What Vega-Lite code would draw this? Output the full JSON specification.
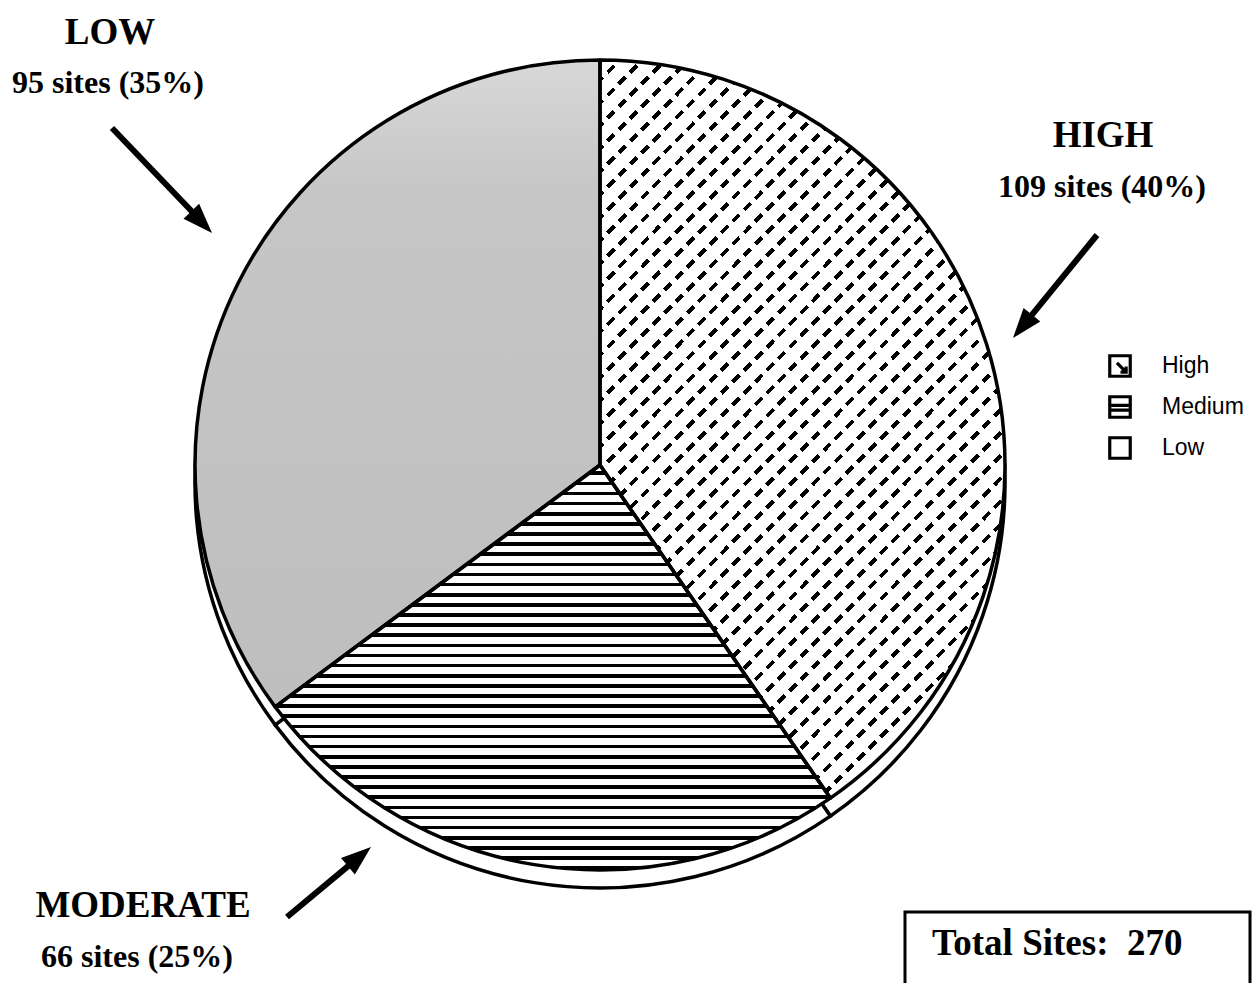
{
  "$schema": "https://vega.github.io/schema/vega-lite/v6.json",
  "width": 1255,
  "height": 983,
  "padding": 0,
  "autosize": {"type": "fit", "contains": "padding"},
  "background": "#ffffff",
  "config": {"view": {"stroke": null}},
  "datasets": {
    "sites": [
      {"level": "High", "sites": 109, "rank": 1},
      {"level": "Medium", "sites": 66, "rank": 2},
      {"level": "Low", "sites": 95, "rank": 3}
    ]
  },
  "data": {"values": [{}]},
  "layer": [
    {
      "data": {"name": "sites"},
      "mark": {"type": "arc", "outerRadius": 405, "stroke": "#000", "strokeWidth": 3.5},
      "encoding": {
        "x": {"datum": 0, "type": "quantitative", "scale": {"domain": [-600, 655], "nice": false, "zero": false}, "axis": null},
        "y": {"datum": -18, "type": "quantitative", "scale": {"domain": [-518, 465], "nice": false, "zero": false}, "axis": null},
        "theta": {"field": "sites", "type": "quantitative", "stack": true},
        "order": {"field": "rank", "type": "quantitative"},
        "fill": {
          "field": "level", "type": "nominal",
          "scale": {"domain": ["High", "Medium", "Low"], "range": ["#ffffff", "#ffffff", "#ffffff"]},
          "legend": {
            "orient": "none", "legendX": 1108, "legendY": 354, "title": null, "padding": 0,
            "symbolType": "square", "symbolSize": 420, "symbolStrokeColor": "#000", "symbolStrokeWidth": 3.2,
            "labelFont": "Liberation Sans", "labelFontSize": 23, "labelColor": "#000", "labelOffset": 30,
            "rowPadding": 7,
            "encode": {"symbols": {"update": {"shape": {"signal": "datum.value === 'High' ? 'M-1,-1H1V1H-1Z M-0.3,-0.3L0.6,0.6 M0.6,0.05V0.6H0.05' : datum.value === 'Medium' ? 'M-1,-1H1V1H-1Z M-1,-0.15H1 M-1,0.3H1' : 'M-1,-1H1V1H-1Z'"}}}}
          }
        }
      }
    },
    {
      "data": {"name": "sites"},
      "mark": {"type": "arc", "outerRadius": 405, "strokeWidth": 0},
      "encoding": {
        "x": {"datum": 0, "type": "quantitative"},
        "y": {"datum": 0, "type": "quantitative"},
        "theta": {"field": "sites", "type": "quantitative", "stack": true},
        "order": {"field": "rank", "type": "quantitative"},
        "fill": {
          "condition": [
            {"test": "datum.level === 'High'", "value": {"gradient": "linear", "x1": 0, "y1": 0, "x2": 0.657, "y2": 1.189, "stops": [
              {"offset":0,"color":"#fff"},{"offset":0.015,"color":"#fff"},{"offset":0.015,"color":"#000"},{"offset":0.02,"color":"#000"},
              {"offset":0.02,"color":"#fff"},{"offset":0.035,"color":"#fff"},{"offset":0.035,"color":"#000"},{"offset":0.04,"color":"#000"},
              {"offset":0.04,"color":"#fff"},{"offset":0.055,"color":"#fff"},{"offset":0.055,"color":"#000"},{"offset":0.06,"color":"#000"},
              {"offset":0.06,"color":"#fff"},{"offset":0.075,"color":"#fff"},{"offset":0.075,"color":"#000"},{"offset":0.08,"color":"#000"},
              {"offset":0.08,"color":"#fff"},{"offset":0.095,"color":"#fff"},{"offset":0.095,"color":"#000"},{"offset":0.1,"color":"#000"},
              {"offset":0.1,"color":"#fff"},{"offset":0.115,"color":"#fff"},{"offset":0.115,"color":"#000"},{"offset":0.12,"color":"#000"},
              {"offset":0.12,"color":"#fff"},{"offset":0.135,"color":"#fff"},{"offset":0.135,"color":"#000"},{"offset":0.14,"color":"#000"},
              {"offset":0.14,"color":"#fff"},{"offset":0.155,"color":"#fff"},{"offset":0.155,"color":"#000"},{"offset":0.16,"color":"#000"},
              {"offset":0.16,"color":"#fff"},{"offset":0.175,"color":"#fff"},{"offset":0.175,"color":"#000"},{"offset":0.18,"color":"#000"},
              {"offset":0.18,"color":"#fff"},{"offset":0.195,"color":"#fff"},{"offset":0.195,"color":"#000"},{"offset":0.2,"color":"#000"},
              {"offset":0.2,"color":"#fff"},{"offset":0.215,"color":"#fff"},{"offset":0.215,"color":"#000"},{"offset":0.22,"color":"#000"},
              {"offset":0.22,"color":"#fff"},{"offset":0.235,"color":"#fff"},{"offset":0.235,"color":"#000"},{"offset":0.24,"color":"#000"},
              {"offset":0.24,"color":"#fff"},{"offset":0.255,"color":"#fff"},{"offset":0.255,"color":"#000"},{"offset":0.26,"color":"#000"},
              {"offset":0.26,"color":"#fff"},{"offset":0.275,"color":"#fff"},{"offset":0.275,"color":"#000"},{"offset":0.28,"color":"#000"},
              {"offset":0.28,"color":"#fff"},{"offset":0.295,"color":"#fff"},{"offset":0.295,"color":"#000"},{"offset":0.3,"color":"#000"},
              {"offset":0.3,"color":"#fff"},{"offset":0.315,"color":"#fff"},{"offset":0.315,"color":"#000"},{"offset":0.32,"color":"#000"},
              {"offset":0.32,"color":"#fff"},{"offset":0.335,"color":"#fff"},{"offset":0.335,"color":"#000"},{"offset":0.34,"color":"#000"},
              {"offset":0.34,"color":"#fff"},{"offset":0.355,"color":"#fff"},{"offset":0.355,"color":"#000"},{"offset":0.36,"color":"#000"},
              {"offset":0.36,"color":"#fff"},{"offset":0.375,"color":"#fff"},{"offset":0.375,"color":"#000"},{"offset":0.38,"color":"#000"},
              {"offset":0.38,"color":"#fff"},{"offset":0.395,"color":"#fff"},{"offset":0.395,"color":"#000"},{"offset":0.4,"color":"#000"},
              {"offset":0.4,"color":"#fff"},{"offset":0.415,"color":"#fff"},{"offset":0.415,"color":"#000"},{"offset":0.42,"color":"#000"},
              {"offset":0.42,"color":"#fff"},{"offset":0.435,"color":"#fff"},{"offset":0.435,"color":"#000"},{"offset":0.44,"color":"#000"},
              {"offset":0.44,"color":"#fff"},{"offset":0.455,"color":"#fff"},{"offset":0.455,"color":"#000"},{"offset":0.46,"color":"#000"},
              {"offset":0.46,"color":"#fff"},{"offset":0.475,"color":"#fff"},{"offset":0.475,"color":"#000"},{"offset":0.48,"color":"#000"},
              {"offset":0.48,"color":"#fff"},{"offset":0.495,"color":"#fff"},{"offset":0.495,"color":"#000"},{"offset":0.5,"color":"#000"},
              {"offset":0.5,"color":"#fff"},{"offset":0.515,"color":"#fff"},{"offset":0.515,"color":"#000"},{"offset":0.52,"color":"#000"},
              {"offset":0.52,"color":"#fff"},{"offset":0.535,"color":"#fff"},{"offset":0.535,"color":"#000"},{"offset":0.54,"color":"#000"},
              {"offset":0.54,"color":"#fff"},{"offset":0.555,"color":"#fff"},{"offset":0.555,"color":"#000"},{"offset":0.56,"color":"#000"},
              {"offset":0.56,"color":"#fff"},{"offset":0.575,"color":"#fff"},{"offset":0.575,"color":"#000"},{"offset":0.58,"color":"#000"},
              {"offset":0.58,"color":"#fff"},{"offset":0.595,"color":"#fff"},{"offset":0.595,"color":"#000"},{"offset":0.6,"color":"#000"},
              {"offset":0.6,"color":"#fff"},{"offset":0.615,"color":"#fff"},{"offset":0.615,"color":"#000"},{"offset":0.62,"color":"#000"},
              {"offset":0.62,"color":"#fff"},{"offset":0.635,"color":"#fff"},{"offset":0.635,"color":"#000"},{"offset":0.64,"color":"#000"},
              {"offset":0.64,"color":"#fff"},{"offset":0.655,"color":"#fff"},{"offset":0.655,"color":"#000"},{"offset":0.66,"color":"#000"},
              {"offset":0.66,"color":"#fff"},{"offset":0.675,"color":"#fff"},{"offset":0.675,"color":"#000"},{"offset":0.68,"color":"#000"},
              {"offset":0.68,"color":"#fff"},{"offset":0.695,"color":"#fff"},{"offset":0.695,"color":"#000"},{"offset":0.7,"color":"#000"},
              {"offset":0.7,"color":"#fff"},{"offset":0.715,"color":"#fff"},{"offset":0.715,"color":"#000"},{"offset":0.72,"color":"#000"},
              {"offset":0.72,"color":"#fff"},{"offset":0.735,"color":"#fff"},{"offset":0.735,"color":"#000"},{"offset":0.74,"color":"#000"},
              {"offset":0.74,"color":"#fff"},{"offset":0.755,"color":"#fff"},{"offset":0.755,"color":"#000"},{"offset":0.76,"color":"#000"},
              {"offset":0.76,"color":"#fff"},{"offset":0.775,"color":"#fff"},{"offset":0.775,"color":"#000"},{"offset":0.78,"color":"#000"},
              {"offset":0.78,"color":"#fff"},{"offset":0.795,"color":"#fff"},{"offset":0.795,"color":"#000"},{"offset":0.8,"color":"#000"},
              {"offset":0.8,"color":"#fff"},{"offset":0.815,"color":"#fff"},{"offset":0.815,"color":"#000"},{"offset":0.82,"color":"#000"},
              {"offset":0.82,"color":"#fff"},{"offset":0.835,"color":"#fff"},{"offset":0.835,"color":"#000"},{"offset":0.84,"color":"#000"},
              {"offset":0.84,"color":"#fff"},{"offset":0.855,"color":"#fff"},{"offset":0.855,"color":"#000"},{"offset":0.86,"color":"#000"},
              {"offset":0.86,"color":"#fff"},{"offset":0.875,"color":"#fff"},{"offset":0.875,"color":"#000"},{"offset":0.88,"color":"#000"},
              {"offset":0.88,"color":"#fff"},{"offset":0.895,"color":"#fff"},{"offset":0.895,"color":"#000"},{"offset":0.9,"color":"#000"},
              {"offset":0.9,"color":"#fff"},{"offset":0.915,"color":"#fff"},{"offset":0.915,"color":"#000"},{"offset":0.92,"color":"#000"},
              {"offset":0.92,"color":"#fff"},{"offset":0.935,"color":"#fff"},{"offset":0.935,"color":"#000"},{"offset":0.94,"color":"#000"},
              {"offset":0.94,"color":"#fff"},{"offset":0.955,"color":"#fff"},{"offset":0.955,"color":"#000"},{"offset":0.96,"color":"#000"},
              {"offset":0.96,"color":"#fff"},{"offset":0.975,"color":"#fff"},{"offset":0.975,"color":"#000"},{"offset":0.98,"color":"#000"},
              {"offset":0.98,"color":"#fff"},{"offset":0.995,"color":"#fff"},{"offset":0.995,"color":"#000"},{"offset":1,"color":"#000"}
            ]}},
            {"test": "datum.level === 'Medium'", "value": {"gradient": "linear", "x1": 0, "y1": 0, "x2": 0, "y2": 1, "stops": [
              {"offset":0,"color":"#fff"},{"offset":0.016,"color":"#fff"},{"offset":0.016,"color":"#000"},{"offset":0.025,"color":"#000"},
              {"offset":0.025,"color":"#fff"},{"offset":0.041,"color":"#fff"},{"offset":0.041,"color":"#000"},{"offset":0.05,"color":"#000"},
              {"offset":0.05,"color":"#fff"},{"offset":0.066,"color":"#fff"},{"offset":0.066,"color":"#000"},{"offset":0.075,"color":"#000"},
              {"offset":0.075,"color":"#fff"},{"offset":0.091,"color":"#fff"},{"offset":0.091,"color":"#000"},{"offset":0.1,"color":"#000"},
              {"offset":0.1,"color":"#fff"},{"offset":0.116,"color":"#fff"},{"offset":0.116,"color":"#000"},{"offset":0.125,"color":"#000"},
              {"offset":0.125,"color":"#fff"},{"offset":0.141,"color":"#fff"},{"offset":0.141,"color":"#000"},{"offset":0.15,"color":"#000"},
              {"offset":0.15,"color":"#fff"},{"offset":0.166,"color":"#fff"},{"offset":0.166,"color":"#000"},{"offset":0.175,"color":"#000"},
              {"offset":0.175,"color":"#fff"},{"offset":0.191,"color":"#fff"},{"offset":0.191,"color":"#000"},{"offset":0.2,"color":"#000"},
              {"offset":0.2,"color":"#fff"},{"offset":0.216,"color":"#fff"},{"offset":0.216,"color":"#000"},{"offset":0.225,"color":"#000"},
              {"offset":0.225,"color":"#fff"},{"offset":0.241,"color":"#fff"},{"offset":0.241,"color":"#000"},{"offset":0.25,"color":"#000"},
              {"offset":0.25,"color":"#fff"},{"offset":0.266,"color":"#fff"},{"offset":0.266,"color":"#000"},{"offset":0.275,"color":"#000"},
              {"offset":0.275,"color":"#fff"},{"offset":0.291,"color":"#fff"},{"offset":0.291,"color":"#000"},{"offset":0.3,"color":"#000"},
              {"offset":0.3,"color":"#fff"},{"offset":0.316,"color":"#fff"},{"offset":0.316,"color":"#000"},{"offset":0.325,"color":"#000"},
              {"offset":0.325,"color":"#fff"},{"offset":0.341,"color":"#fff"},{"offset":0.341,"color":"#000"},{"offset":0.35,"color":"#000"},
              {"offset":0.35,"color":"#fff"},{"offset":0.366,"color":"#fff"},{"offset":0.366,"color":"#000"},{"offset":0.375,"color":"#000"},
              {"offset":0.375,"color":"#fff"},{"offset":0.391,"color":"#fff"},{"offset":0.391,"color":"#000"},{"offset":0.4,"color":"#000"},
              {"offset":0.4,"color":"#fff"},{"offset":0.416,"color":"#fff"},{"offset":0.416,"color":"#000"},{"offset":0.425,"color":"#000"},
              {"offset":0.425,"color":"#fff"},{"offset":0.441,"color":"#fff"},{"offset":0.441,"color":"#000"},{"offset":0.45,"color":"#000"},
              {"offset":0.45,"color":"#fff"},{"offset":0.466,"color":"#fff"},{"offset":0.466,"color":"#000"},{"offset":0.475,"color":"#000"},
              {"offset":0.475,"color":"#fff"},{"offset":0.491,"color":"#fff"},{"offset":0.491,"color":"#000"},{"offset":0.5,"color":"#000"},
              {"offset":0.5,"color":"#fff"},{"offset":0.516,"color":"#fff"},{"offset":0.516,"color":"#000"},{"offset":0.525,"color":"#000"},
              {"offset":0.525,"color":"#fff"},{"offset":0.541,"color":"#fff"},{"offset":0.541,"color":"#000"},{"offset":0.55,"color":"#000"},
              {"offset":0.55,"color":"#fff"},{"offset":0.566,"color":"#fff"},{"offset":0.566,"color":"#000"},{"offset":0.575,"color":"#000"},
              {"offset":0.575,"color":"#fff"},{"offset":0.591,"color":"#fff"},{"offset":0.591,"color":"#000"},{"offset":0.6,"color":"#000"},
              {"offset":0.6,"color":"#fff"},{"offset":0.616,"color":"#fff"},{"offset":0.616,"color":"#000"},{"offset":0.625,"color":"#000"},
              {"offset":0.625,"color":"#fff"},{"offset":0.641,"color":"#fff"},{"offset":0.641,"color":"#000"},{"offset":0.65,"color":"#000"},
              {"offset":0.65,"color":"#fff"},{"offset":0.666,"color":"#fff"},{"offset":0.666,"color":"#000"},{"offset":0.675,"color":"#000"},
              {"offset":0.675,"color":"#fff"},{"offset":0.691,"color":"#fff"},{"offset":0.691,"color":"#000"},{"offset":0.7,"color":"#000"},
              {"offset":0.7,"color":"#fff"},{"offset":0.716,"color":"#fff"},{"offset":0.716,"color":"#000"},{"offset":0.725,"color":"#000"},
              {"offset":0.725,"color":"#fff"},{"offset":0.741,"color":"#fff"},{"offset":0.741,"color":"#000"},{"offset":0.75,"color":"#000"},
              {"offset":0.75,"color":"#fff"},{"offset":0.766,"color":"#fff"},{"offset":0.766,"color":"#000"},{"offset":0.775,"color":"#000"},
              {"offset":0.775,"color":"#fff"},{"offset":0.791,"color":"#fff"},{"offset":0.791,"color":"#000"},{"offset":0.8,"color":"#000"},
              {"offset":0.8,"color":"#fff"},{"offset":0.816,"color":"#fff"},{"offset":0.816,"color":"#000"},{"offset":0.825,"color":"#000"},
              {"offset":0.825,"color":"#fff"},{"offset":0.841,"color":"#fff"},{"offset":0.841,"color":"#000"},{"offset":0.85,"color":"#000"},
              {"offset":0.85,"color":"#fff"},{"offset":0.866,"color":"#fff"},{"offset":0.866,"color":"#000"},{"offset":0.875,"color":"#000"},
              {"offset":0.875,"color":"#fff"},{"offset":0.891,"color":"#fff"},{"offset":0.891,"color":"#000"},{"offset":0.9,"color":"#000"},
              {"offset":0.9,"color":"#fff"},{"offset":0.916,"color":"#fff"},{"offset":0.916,"color":"#000"},{"offset":0.925,"color":"#000"},
              {"offset":0.925,"color":"#fff"},{"offset":0.941,"color":"#fff"},{"offset":0.941,"color":"#000"},{"offset":0.95,"color":"#000"},
              {"offset":0.95,"color":"#fff"},{"offset":0.966,"color":"#fff"},{"offset":0.966,"color":"#000"},{"offset":0.975,"color":"#000"},
              {"offset":0.975,"color":"#fff"},{"offset":0.991,"color":"#fff"},{"offset":0.991,"color":"#000"},{"offset":1,"color":"#000"}
            ]}}
          ],
          "value": {"gradient": "linear", "x1": 0, "y1": 0, "x2": 0, "y2": 1, "stops": [
            {"offset": 0, "color": "#d8d8d8"}, {"offset": 0.2, "color": "#c6c6c6"}, {"offset": 1, "color": "#bebebe"}
          ]}
        }
      }
    },
    {
      "data": {"name": "sites"},
      "mark": {"type": "arc", "outerRadius": 405, "strokeWidth": 0},
      "encoding": {
        "x": {"datum": 0, "type": "quantitative"},
        "y": {"datum": 0, "type": "quantitative"},
        "theta": {"field": "sites", "type": "quantitative", "stack": true},
        "order": {"field": "rank", "type": "quantitative"},
        "fill": {
          "condition": {"test": "datum.level === 'High'", "value": {"gradient": "linear", "x1": 0, "y1": 1, "x2": 0.657, "y2": -0.189, "stops": [
            {"offset":0,"color":"rgba(255,255,255,0)"},{"offset":0.012,"color":"rgba(255,255,255,0)"},{"offset":0.012,"color":"#fff"},{"offset":0.02,"color":"#fff"},
            {"offset":0.02,"color":"rgba(255,255,255,0)"},{"offset":0.032,"color":"rgba(255,255,255,0)"},{"offset":0.032,"color":"#fff"},{"offset":0.04,"color":"#fff"},
            {"offset":0.04,"color":"rgba(255,255,255,0)"},{"offset":0.052,"color":"rgba(255,255,255,0)"},{"offset":0.052,"color":"#fff"},{"offset":0.06,"color":"#fff"},
            {"offset":0.06,"color":"rgba(255,255,255,0)"},{"offset":0.072,"color":"rgba(255,255,255,0)"},{"offset":0.072,"color":"#fff"},{"offset":0.08,"color":"#fff"},
            {"offset":0.08,"color":"rgba(255,255,255,0)"},{"offset":0.092,"color":"rgba(255,255,255,0)"},{"offset":0.092,"color":"#fff"},{"offset":0.1,"color":"#fff"},
            {"offset":0.1,"color":"rgba(255,255,255,0)"},{"offset":0.112,"color":"rgba(255,255,255,0)"},{"offset":0.112,"color":"#fff"},{"offset":0.12,"color":"#fff"},
            {"offset":0.12,"color":"rgba(255,255,255,0)"},{"offset":0.132,"color":"rgba(255,255,255,0)"},{"offset":0.132,"color":"#fff"},{"offset":0.14,"color":"#fff"},
            {"offset":0.14,"color":"rgba(255,255,255,0)"},{"offset":0.152,"color":"rgba(255,255,255,0)"},{"offset":0.152,"color":"#fff"},{"offset":0.16,"color":"#fff"},
            {"offset":0.16,"color":"rgba(255,255,255,0)"},{"offset":0.172,"color":"rgba(255,255,255,0)"},{"offset":0.172,"color":"#fff"},{"offset":0.18,"color":"#fff"},
            {"offset":0.18,"color":"rgba(255,255,255,0)"},{"offset":0.192,"color":"rgba(255,255,255,0)"},{"offset":0.192,"color":"#fff"},{"offset":0.2,"color":"#fff"},
            {"offset":0.2,"color":"rgba(255,255,255,0)"},{"offset":0.212,"color":"rgba(255,255,255,0)"},{"offset":0.212,"color":"#fff"},{"offset":0.22,"color":"#fff"},
            {"offset":0.22,"color":"rgba(255,255,255,0)"},{"offset":0.232,"color":"rgba(255,255,255,0)"},{"offset":0.232,"color":"#fff"},{"offset":0.24,"color":"#fff"},
            {"offset":0.24,"color":"rgba(255,255,255,0)"},{"offset":0.252,"color":"rgba(255,255,255,0)"},{"offset":0.252,"color":"#fff"},{"offset":0.26,"color":"#fff"},
            {"offset":0.26,"color":"rgba(255,255,255,0)"},{"offset":0.272,"color":"rgba(255,255,255,0)"},{"offset":0.272,"color":"#fff"},{"offset":0.28,"color":"#fff"},
            {"offset":0.28,"color":"rgba(255,255,255,0)"},{"offset":0.292,"color":"rgba(255,255,255,0)"},{"offset":0.292,"color":"#fff"},{"offset":0.3,"color":"#fff"},
            {"offset":0.3,"color":"rgba(255,255,255,0)"},{"offset":0.312,"color":"rgba(255,255,255,0)"},{"offset":0.312,"color":"#fff"},{"offset":0.32,"color":"#fff"},
            {"offset":0.32,"color":"rgba(255,255,255,0)"},{"offset":0.332,"color":"rgba(255,255,255,0)"},{"offset":0.332,"color":"#fff"},{"offset":0.34,"color":"#fff"},
            {"offset":0.34,"color":"rgba(255,255,255,0)"},{"offset":0.352,"color":"rgba(255,255,255,0)"},{"offset":0.352,"color":"#fff"},{"offset":0.36,"color":"#fff"},
            {"offset":0.36,"color":"rgba(255,255,255,0)"},{"offset":0.372,"color":"rgba(255,255,255,0)"},{"offset":0.372,"color":"#fff"},{"offset":0.38,"color":"#fff"},
            {"offset":0.38,"color":"rgba(255,255,255,0)"},{"offset":0.392,"color":"rgba(255,255,255,0)"},{"offset":0.392,"color":"#fff"},{"offset":0.4,"color":"#fff"},
            {"offset":0.4,"color":"rgba(255,255,255,0)"},{"offset":0.412,"color":"rgba(255,255,255,0)"},{"offset":0.412,"color":"#fff"},{"offset":0.42,"color":"#fff"},
            {"offset":0.42,"color":"rgba(255,255,255,0)"},{"offset":0.432,"color":"rgba(255,255,255,0)"},{"offset":0.432,"color":"#fff"},{"offset":0.44,"color":"#fff"},
            {"offset":0.44,"color":"rgba(255,255,255,0)"},{"offset":0.452,"color":"rgba(255,255,255,0)"},{"offset":0.452,"color":"#fff"},{"offset":0.46,"color":"#fff"},
            {"offset":0.46,"color":"rgba(255,255,255,0)"},{"offset":0.472,"color":"rgba(255,255,255,0)"},{"offset":0.472,"color":"#fff"},{"offset":0.48,"color":"#fff"},
            {"offset":0.48,"color":"rgba(255,255,255,0)"},{"offset":0.492,"color":"rgba(255,255,255,0)"},{"offset":0.492,"color":"#fff"},{"offset":0.5,"color":"#fff"},
            {"offset":0.5,"color":"rgba(255,255,255,0)"},{"offset":0.512,"color":"rgba(255,255,255,0)"},{"offset":0.512,"color":"#fff"},{"offset":0.52,"color":"#fff"},
            {"offset":0.52,"color":"rgba(255,255,255,0)"},{"offset":0.532,"color":"rgba(255,255,255,0)"},{"offset":0.532,"color":"#fff"},{"offset":0.54,"color":"#fff"},
            {"offset":0.54,"color":"rgba(255,255,255,0)"},{"offset":0.552,"color":"rgba(255,255,255,0)"},{"offset":0.552,"color":"#fff"},{"offset":0.56,"color":"#fff"},
            {"offset":0.56,"color":"rgba(255,255,255,0)"},{"offset":0.572,"color":"rgba(255,255,255,0)"},{"offset":0.572,"color":"#fff"},{"offset":0.58,"color":"#fff"},
            {"offset":0.58,"color":"rgba(255,255,255,0)"},{"offset":0.592,"color":"rgba(255,255,255,0)"},{"offset":0.592,"color":"#fff"},{"offset":0.6,"color":"#fff"},
            {"offset":0.6,"color":"rgba(255,255,255,0)"},{"offset":0.612,"color":"rgba(255,255,255,0)"},{"offset":0.612,"color":"#fff"},{"offset":0.62,"color":"#fff"},
            {"offset":0.62,"color":"rgba(255,255,255,0)"},{"offset":0.632,"color":"rgba(255,255,255,0)"},{"offset":0.632,"color":"#fff"},{"offset":0.64,"color":"#fff"},
            {"offset":0.64,"color":"rgba(255,255,255,0)"},{"offset":0.652,"color":"rgba(255,255,255,0)"},{"offset":0.652,"color":"#fff"},{"offset":0.66,"color":"#fff"},
            {"offset":0.66,"color":"rgba(255,255,255,0)"},{"offset":0.672,"color":"rgba(255,255,255,0)"},{"offset":0.672,"color":"#fff"},{"offset":0.68,"color":"#fff"},
            {"offset":0.68,"color":"rgba(255,255,255,0)"},{"offset":0.692,"color":"rgba(255,255,255,0)"},{"offset":0.692,"color":"#fff"},{"offset":0.7,"color":"#fff"},
            {"offset":0.7,"color":"rgba(255,255,255,0)"},{"offset":0.712,"color":"rgba(255,255,255,0)"},{"offset":0.712,"color":"#fff"},{"offset":0.72,"color":"#fff"},
            {"offset":0.72,"color":"rgba(255,255,255,0)"},{"offset":0.732,"color":"rgba(255,255,255,0)"},{"offset":0.732,"color":"#fff"},{"offset":0.74,"color":"#fff"},
            {"offset":0.74,"color":"rgba(255,255,255,0)"},{"offset":0.752,"color":"rgba(255,255,255,0)"},{"offset":0.752,"color":"#fff"},{"offset":0.76,"color":"#fff"},
            {"offset":0.76,"color":"rgba(255,255,255,0)"},{"offset":0.772,"color":"rgba(255,255,255,0)"},{"offset":0.772,"color":"#fff"},{"offset":0.78,"color":"#fff"},
            {"offset":0.78,"color":"rgba(255,255,255,0)"},{"offset":0.792,"color":"rgba(255,255,255,0)"},{"offset":0.792,"color":"#fff"},{"offset":0.8,"color":"#fff"},
            {"offset":0.8,"color":"rgba(255,255,255,0)"},{"offset":0.812,"color":"rgba(255,255,255,0)"},{"offset":0.812,"color":"#fff"},{"offset":0.82,"color":"#fff"},
            {"offset":0.82,"color":"rgba(255,255,255,0)"},{"offset":0.832,"color":"rgba(255,255,255,0)"},{"offset":0.832,"color":"#fff"},{"offset":0.84,"color":"#fff"},
            {"offset":0.84,"color":"rgba(255,255,255,0)"},{"offset":0.852,"color":"rgba(255,255,255,0)"},{"offset":0.852,"color":"#fff"},{"offset":0.86,"color":"#fff"},
            {"offset":0.86,"color":"rgba(255,255,255,0)"},{"offset":0.872,"color":"rgba(255,255,255,0)"},{"offset":0.872,"color":"#fff"},{"offset":0.88,"color":"#fff"},
            {"offset":0.88,"color":"rgba(255,255,255,0)"},{"offset":0.892,"color":"rgba(255,255,255,0)"},{"offset":0.892,"color":"#fff"},{"offset":0.9,"color":"#fff"},
            {"offset":0.9,"color":"rgba(255,255,255,0)"},{"offset":0.912,"color":"rgba(255,255,255,0)"},{"offset":0.912,"color":"#fff"},{"offset":0.92,"color":"#fff"},
            {"offset":0.92,"color":"rgba(255,255,255,0)"},{"offset":0.932,"color":"rgba(255,255,255,0)"},{"offset":0.932,"color":"#fff"},{"offset":0.94,"color":"#fff"},
            {"offset":0.94,"color":"rgba(255,255,255,0)"},{"offset":0.952,"color":"rgba(255,255,255,0)"},{"offset":0.952,"color":"#fff"},{"offset":0.96,"color":"#fff"},
            {"offset":0.96,"color":"rgba(255,255,255,0)"},{"offset":0.972,"color":"rgba(255,255,255,0)"},{"offset":0.972,"color":"#fff"},{"offset":0.98,"color":"#fff"},
            {"offset":0.98,"color":"rgba(255,255,255,0)"},{"offset":0.992,"color":"rgba(255,255,255,0)"},{"offset":0.992,"color":"#fff"},{"offset":1,"color":"#fff"}
          ]}},
          "value": "rgba(255,255,255,0)"
        }
      }
    },
    {
      "data": {"name": "sites"},
      "mark": {"type": "arc", "outerRadius": 405, "fill": "rgba(255,255,255,0)", "stroke": "#000", "strokeWidth": 3.5, "strokeJoin": "round"},
      "encoding": {
        "x": {"datum": 0, "type": "quantitative"},
        "y": {"datum": 0, "type": "quantitative"},
        "theta": {"field": "sites", "type": "quantitative", "stack": true},
        "order": {"field": "rank", "type": "quantitative"}
      }
    },
    {
      "mark": {"type": "rect", "fill": "rgba(255,255,255,0)", "stroke": "#000", "strokeWidth": 3, "clip": true},
      "encoding": {
        "x": {"datum": 305, "type": "quantitative"},
        "x2": {"datum": 650},
        "y": {"datum": -447, "type": "quantitative"},
        "y2": {"datum": -545}
      }
    },
    {
      "mark": {"type": "text", "text": "Total Sites:\u00a0 270", "font": "Liberation Serif", "fontWeight": "bold", "fontSize": 37, "align": "left", "baseline": "alphabetic", "color": "#000"},
      "encoding": {"x": {"datum": 332, "type": "quantitative"}, "y": {"datum": -490, "type": "quantitative"}}
    },
    {
      "mark": {"type": "text", "text": "LOW", "font": "Liberation Serif", "fontWeight": "bold", "fontSize": 37, "align": "center", "baseline": "alphabetic", "color": "#000"},
      "encoding": {"x": {"datum": -490, "type": "quantitative"}, "y": {"datum": 421, "type": "quantitative"}}
    },
    {
      "mark": {"type": "text", "text": "95 sites (35%)", "font": "Liberation Serif", "fontWeight": "bold", "fontSize": 32, "align": "center", "baseline": "alphabetic", "color": "#000"},
      "encoding": {"x": {"datum": -492, "type": "quantitative"}, "y": {"datum": 372, "type": "quantitative"}}
    },
    {
      "mark": {"type": "text", "text": "HIGH", "font": "Liberation Serif", "fontWeight": "bold", "fontSize": 37, "align": "center", "baseline": "alphabetic", "color": "#000"},
      "encoding": {"x": {"datum": 503, "type": "quantitative"}, "y": {"datum": 318, "type": "quantitative"}}
    },
    {
      "mark": {"type": "text", "text": "109 sites (40%)", "font": "Liberation Serif", "fontWeight": "bold", "fontSize": 32, "align": "center", "baseline": "alphabetic", "color": "#000"},
      "encoding": {"x": {"datum": 502, "type": "quantitative"}, "y": {"datum": 268, "type": "quantitative"}}
    },
    {
      "mark": {"type": "text", "text": "MODERATE", "font": "Liberation Serif", "fontWeight": "bold", "fontSize": 37, "align": "center", "baseline": "alphabetic", "color": "#000"},
      "encoding": {"x": {"datum": -457, "type": "quantitative"}, "y": {"datum": -452, "type": "quantitative"}}
    },
    {
      "mark": {"type": "text", "text": "66 sites (25%)", "font": "Liberation Serif", "fontWeight": "bold", "fontSize": 32, "align": "center", "baseline": "alphabetic", "color": "#000"},
      "encoding": {"x": {"datum": -463, "type": "quantitative"}, "y": {"datum": -502, "type": "quantitative"}}
    },
    {
      "mark": {"type": "rule", "strokeWidth": 6, "color": "#000"},
      "encoding": {"x": {"datum": -488, "type": "quantitative"}, "y": {"datum": 337, "type": "quantitative"}, "x2": {"datum": -398}, "y2": {"datum": 243}}
    },
    {
      "mark": {"type": "point", "shape": "M0,0L-0.72,2L0.72,2Z", "filled": true, "size": 900, "color": "#000", "opacity": 1, "angle": 136.4},
      "encoding": {"x": {"datum": -388, "type": "quantitative"}, "y": {"datum": 232, "type": "quantitative"}}
    },
    {
      "mark": {"type": "rule", "strokeWidth": 6, "color": "#000"},
      "encoding": {"x": {"datum": 497, "type": "quantitative"}, "y": {"datum": 230, "type": "quantitative"}, "x2": {"datum": 422.5}, "y2": {"datum": 138.6}}
    },
    {
      "mark": {"type": "point", "shape": "M0,0L-0.72,2L0.72,2Z", "filled": true, "size": 900, "color": "#000", "opacity": 1, "angle": 219.2},
      "encoding": {"x": {"datum": 413, "type": "quantitative"}, "y": {"datum": 127, "type": "quantitative"}}
    },
    {
      "mark": {"type": "rule", "strokeWidth": 6, "color": "#000"},
      "encoding": {"x": {"datum": -313, "type": "quantitative"}, "y": {"datum": -452, "type": "quantitative"}, "x2": {"datum": -240.5}, "y2": {"datum": -391.6}}
    },
    {
      "mark": {"type": "point", "shape": "M0,0L-0.72,2L0.72,2Z", "filled": true, "size": 900, "color": "#000", "opacity": 1, "angle": 50.2},
      "encoding": {"x": {"datum": -229, "type": "quantitative"}, "y": {"datum": -382, "type": "quantitative"}}
    }
  ]
}
